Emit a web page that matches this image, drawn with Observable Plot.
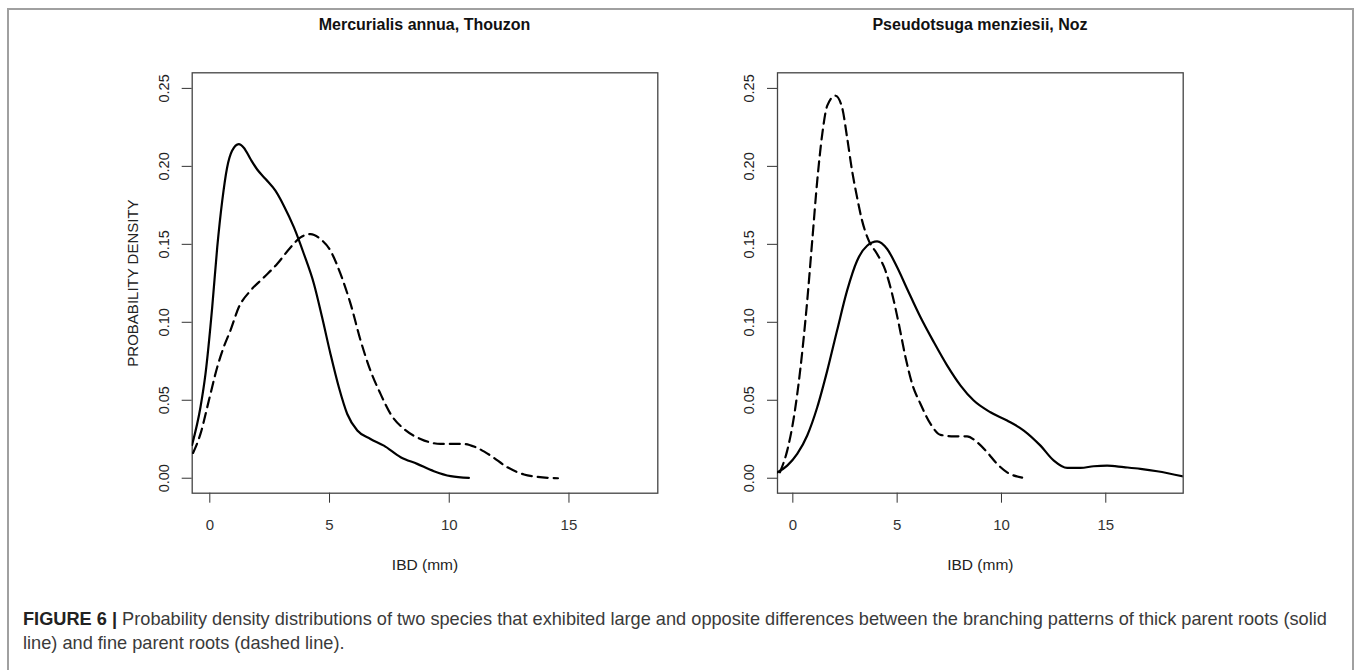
<!DOCTYPE html>
<html><head><meta charset="utf-8">
<script src="https://cdn.jsdelivr.net/npm/d3@7"></script>
<script src="https://cdn.jsdelivr.net/npm/@observablehq/plot@0.6"></script>
<style>
body{margin:0;background:#fff;font-family:"Liberation Sans",Arial,sans-serif;}
#fig{position:relative;width:1355px;height:670px;overflow:hidden;background:#fff;}
#border{position:absolute;left:7px;top:8px;width:1343px;height:700px;border:2px solid #a0a0a0;border-bottom:none;z-index:5;}
.title{position:absolute;top:15px;width:500px;font-weight:bold;font-size:16px;line-height:20px;color:#111;text-align:center;}
.panel{position:absolute;top:50px;}
.panel svg{background:transparent !important;}
#caption{position:absolute;left:23px;top:607px;width:1320px;font-size:18.2px;line-height:24px;color:#3a3a3a;white-space:nowrap;}
#caption b{color:#222;}
</style></head>
<body>
<div id="fig">
  <div id="border"></div>
  <div class="title" id="t1" style="left:174.5px"></div>
  <div class="title" id="t2" style="left:730px"></div>
  <div class="panel" id="p1" style="left:0px"></div>
  <div class="panel" id="p2" style="left:680px"></div>
  <div id="caption"></div>
</div>
<script>
// ---------- data ----------
const titles = ["Mercurialis annua, Thouzon", "Pseudotsuga menziesii, Noz"];
const xLabel = "IBD (mm)";
const yLabel = "PROBABILITY DENSITY";
const xTicks = [0, 5, 10, 15];
const yTicks = [0, 0.05, 0.10, 0.15, 0.20, 0.25];

// Mercurialis annua – thick parent roots (solid)
const merThickX = [-0.74,-0.39,-0.18,0.10,0.31,0.52,0.72,0.93,1.21,1.42,1.70,1.98,2.33,2.74,3.09,3.51,3.93,4.35,4.69,5.04,5.39,5.74,6.16,6.71,7.27,7.97,8.66,9.36,10.06,10.82];
const merThickY = [0.0214,0.0455,0.0669,0.1096,0.148,0.178,0.199,0.210,0.2143,0.212,0.2047,0.198,0.1919,0.1844,0.1748,0.161,0.1438,0.1246,0.1032,0.0797,0.0583,0.0412,0.0306,0.0252,0.0209,0.0135,0.0092,0.0045,0.0013,0.0002];
// Mercurialis annua – fine parent roots (dashed)
const merFineX = [-0.70,-0.39,-0.04,0.31,0.58,0.86,1.21,1.70,2.26,2.81,3.37,3.79,4.21,4.62,5.04,5.46,5.88,6.30,6.71,7.13,7.55,8.11,8.80,9.64,10.61,11.10,11.73,12.42,13.12,13.68,14.54];
const merFineY = [0.0162,0.0284,0.0498,0.0712,0.084,0.0947,0.1096,0.1203,0.1288,0.1374,0.148,0.1545,0.1566,0.1534,0.1459,0.131,0.1118,0.0882,0.069,0.0541,0.0412,0.0316,0.0252,0.022,0.022,0.0199,0.0145,0.0071,0.0024,0.0009,0.0];
// Pseudotsuga menziesii – thick parent roots (solid)
const pseThickX = [-0.73,-0.27,0.21,0.69,1.17,1.65,2.12,2.60,3.08,3.56,4.04,4.52,5.00,5.48,6.12,6.76,7.40,8.04,8.67,9.47,10.27,11.07,11.87,12.51,13.15,13.79,14.42,15.06,15.86,16.66,17.46,18.71];
const pseThickY = [0.0038,0.0081,0.0156,0.0274,0.0455,0.069,0.0947,0.1203,0.1395,0.1491,0.1519,0.147,0.1353,0.1214,0.1032,0.0872,0.0722,0.0594,0.0498,0.0423,0.037,0.0306,0.0209,0.0113,0.0066,0.0066,0.0077,0.0081,0.0071,0.006,0.0045,0.0011];
// Pseudotsuga menziesii – fine parent roots (dashed)
const pseFineX = [-0.62,-0.27,0.05,0.37,0.69,0.93,1.17,1.41,1.65,2.04,2.36,2.60,2.84,3.08,3.32,3.64,4.04,4.44,4.76,5.08,5.40,5.72,6.12,6.60,7.08,7.72,8.35,8.83,9.31,9.79,10.27,10.99];
const pseFineY = [0.0038,0.0177,0.0391,0.0712,0.1139,0.1524,0.1908,0.2207,0.2389,0.2453,0.2378,0.2186,0.1972,0.1801,0.1652,0.1524,0.1438,0.1331,0.1182,0.0989,0.0776,0.0605,0.0476,0.0348,0.0278,0.0269,0.0269,0.0231,0.0167,0.0092,0.0038,0.0004];

const captionBold = "FIGURE 6 |";
const captionLine1 = "Probability density distributions of two species that exhibited large and opposite differences between the branching patterns of thick parent roots (solid";
const captionLine2 = "line) and fine parent roots (dashed line).";

// ---------- build ----------
const toRows = (xs, ys) => xs.map((x, i) => ({x, y: ys[i]}));
const fmt = d3.format(".2f");
const font = "'Liberation Sans', Arial, Helvetica, sans-serif";

function panel(thick, fine, showYLabel, width, marginLeft, marginRight) {
  return Plot.plot({
    width, height: 530,
    marginLeft, marginRight, marginTop: 22.3, marginBottom: 87.3,
    x: {domain: [-0.735, 18.71], ticks: xTicks, tickSize: 10, tickPadding: 16, label: null},
    y: {domain: [-0.0096, 0.26], ticks: yTicks, tickSize: 10, tickFormat: () => "", label: null},
    style: {fontFamily: font, fontSize: "15px", color: "#333", background: "transparent", overflow: "visible"},
    marks: [
      Plot.frame({stroke: "#444", strokeWidth: 1.3}),
      Plot.line(thick, {x: "x", y: "y", stroke: "#000", strokeWidth: 2.2, curve: "monotone-x", clip: true}),
      Plot.line(fine, {x: "x", y: "y", stroke: "#000", strokeWidth: 2.2, strokeDasharray: "10,6", curve: "monotone-x", clip: true}),
      Plot.text(yTicks, {y: d => d, text: d => fmt(d), frameAnchor: "left", dx: -28, rotate: -90,
        textAnchor: "middle", lineAnchor: "middle", fontSize: 14.5, fill: "#222"}),
      Plot.text([xLabel], {text: d => d, frameAnchor: "bottom", dy: 71.8, lineAnchor: "middle", fontSize: 15.5, fill: "#222"}),
      showYLabel ? Plot.text([yLabel], {text: d => d, frameAnchor: "left", dx: -59.5, rotate: -90,
        lineAnchor: "middle", textAnchor: "middle", fontSize: 15, fill: "#222"}) : null
    ]
  });
}

document.getElementById("t1").textContent = titles[0];
document.getElementById("t2").textContent = titles[1];
document.getElementById("p1").appendChild(panel(toRows(merThickX, merThickY), toRows(merFineX, merFineY), true, 680, 191.7, 22.7));
document.getElementById("p2").appendChild(panel(toRows(pseThickX, pseThickY), toRows(pseFineX, pseFineY), false, 675, 97, 172.3));

const cap = document.getElementById("caption");
const b = document.createElement("b"); b.textContent = captionBold;
cap.appendChild(b);
cap.appendChild(document.createTextNode(" " + captionLine1));
cap.appendChild(document.createElement("br"));
cap.appendChild(document.createTextNode(captionLine2));
</script>
</body></html>
